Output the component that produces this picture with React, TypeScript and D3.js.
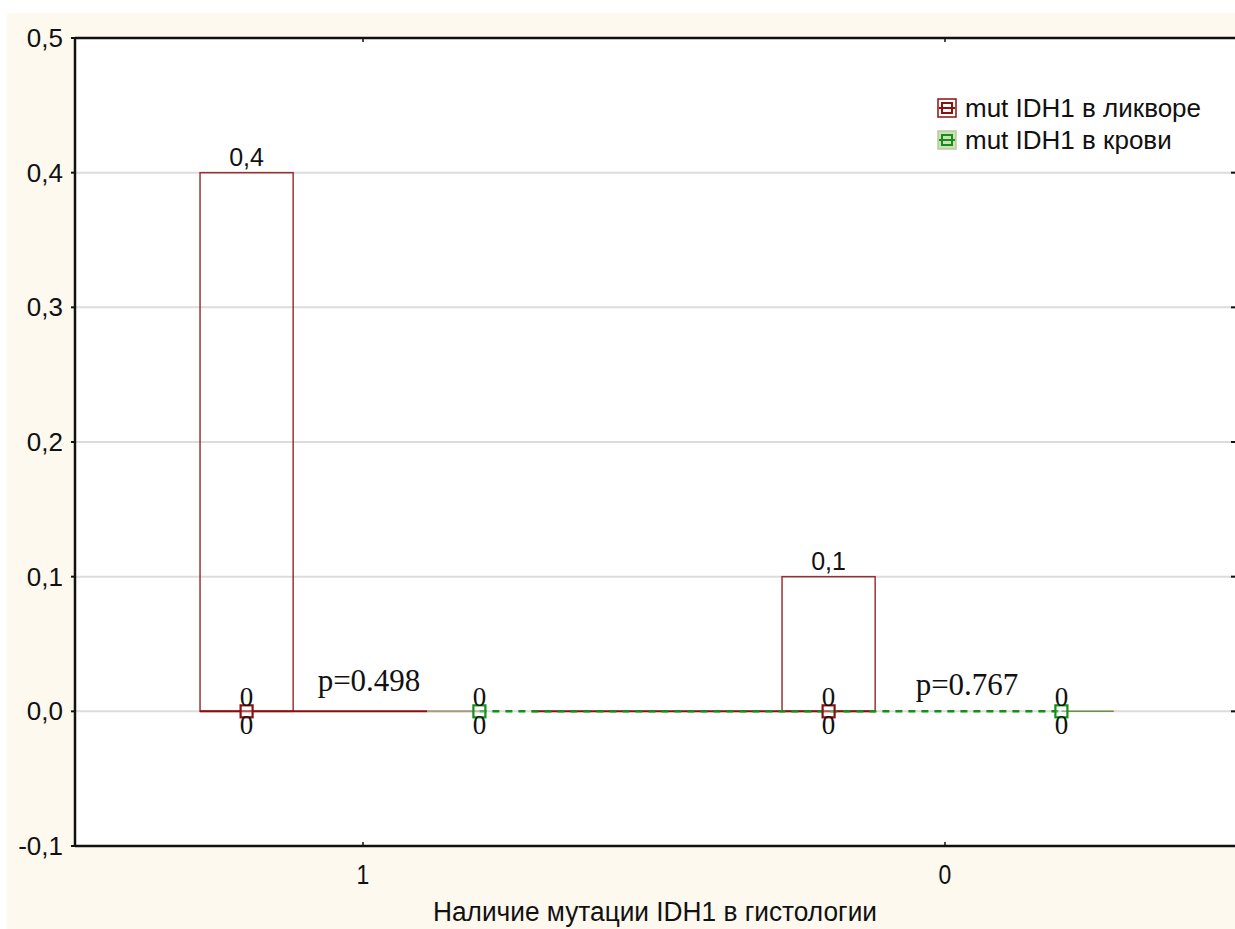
import React from "react";
import * as d3 from "d3";

const categories = ["1", "0"];
const liquorBars = [0.4, 0.1];
const liquorPoints = [0, 0];
const bloodPoints = [0, 0];
const pLabels = ["p=0.498", "p=0.767"];
const yTicks = [-0.1, 0, 0.1, 0.2, 0.3, 0.4, 0.5];
const seriesNames = ["mut IDH1 в ликворе", "mut IDH1 в крови"];
const xTitle = "Наличие мутации IDH1 в гистологии";

const W = 1235;
const H = 929;
const RED = "#8b1010";
const GREEN = "#12901a";
const SANS = "'Liberation Sans', Arial, sans-serif";
const SERIF = "'Liberation Serif', 'Times New Roman', serif";

export default function App() {
  const left = 75;
  const top = 38;
  const bottom = 846;
  const right = 1240;
  const y = d3.scaleLinear().domain([-0.1, 0.5]).range([bottom, top]);
  const x = d3.scaleLinear().domain([0, 1]).range([363, 945]);
  const off = 0.2;
  const half = 0.08;
  const fmt = (v: number) => d3.format(".1f")(v).replace(".", ",").replace("−", "-");
  const y0 = y(0);

  return (
    <svg width={W} height={H} style={{ position: "absolute", left: 0, top: 0 }}>
      <rect x={7} y={13} width={W - 7} height={H - 13} fill="#fef9ee" />
      <rect x={left} y={top} width={right - left} height={bottom - top} fill="#ffffff" />
      {yTicks.map((t) => (
        <g key={t}>
          {t > -0.1 && t < 0.5 && (
            <line x1={left} x2={right} y1={y(t)} y2={y(t)} stroke="#dcdcdc" strokeWidth={2} />
          )}
          <line x1={left - 4} x2={left} y1={y(t)} y2={y(t)} stroke="#111" strokeWidth={2} />
          <line x1={W - 4} x2={W} y1={y(t)} y2={y(t)} stroke="#111" strokeWidth={2} />
          <text x={63} y={y(t) + 9} textAnchor="end" fontFamily={SANS} fontSize={26} fill="#111">
            {fmt(t)}
          </text>
        </g>
      ))}
      {/* bars */}
      {categories.map((c, i) => (
        <g key={c}>
          <rect
            x={x(i - off - half)}
            y={y(liquorBars[i])}
            width={x(i - off + half) - x(i - off - half)}
            height={y0 - y(liquorBars[i])}
            fill="none"
            stroke={RED}
            strokeOpacity={0.85}
            strokeWidth={1.5}
          />
          <text x={x(i - off)} y={y(liquorBars[i]) - 7} textAnchor="middle" fontFamily={SANS} fontSize={25} fill="#111">
            {fmt(liquorBars[i])}
          </text>
        </g>
      ))}
      {/* connecting lines */}
      <line x1={x(-off - half)} x2={x(0.11)} y1={y0} y2={y0} stroke={RED} strokeWidth={2} />
      <line x1={x(0.11)} x2={x(off)} y1={y0} y2={y0} stroke="#a89a7a" strokeWidth={2} />
      <line x1={x(0.29)} x2={x(1 - off + half)} y1={y0} y2={y0} stroke={RED} strokeWidth={2} />
      <line x1={x(off)} x2={x(1 + off)} y1={y0} y2={y0} stroke={GREEN} strokeWidth={2.5} strokeDasharray="7,6" />
      <line x1={x(1 + off)} x2={x(1.29)} y1={y0} y2={y0} stroke="#6f8f45" strokeWidth={1.5} />
      {/* markers and labels */}
      {categories.map((c, i) => (
        <g key={"m" + c}>
          {[
            { v: liquorPoints[i], cx: x(i - off), col: RED },
            { v: bloodPoints[i], cx: x(i + off), col: GREEN },
          ].map((m, k) => (
            <g key={k}>
              <rect x={m.cx - 6} y={y(m.v) - 6} width={12} height={12} fill="#fff" fillOpacity={0.3} stroke={m.col} strokeWidth={2.2} />
              <text x={m.cx} y={y(m.v) - 5} textAnchor="middle" fontFamily={SERIF} fontSize={27} fill="#111">
                {d3.format("d")(m.v)}
              </text>
              <text x={m.cx} y={y(m.v) + 23} textAnchor="middle" fontFamily={SERIF} fontSize={27} fill="#111">
                {d3.format("d")(m.v)}
              </text>
            </g>
          ))}
          <text x={x(i) + 6 + i * 16} y={y0 - 20 + i * 4} textAnchor="middle" fontFamily={SERIF} fontSize={31} fill="#111">
            {pLabels[i]}
          </text>
        </g>
      ))}
      {/* axes */}
      <line x1={left} x2={W} y1={top} y2={top} stroke="#111" strokeWidth={2.5} />
      <line x1={left} x2={W} y1={bottom} y2={bottom} stroke="#111" strokeWidth={2.5} />
      <line x1={left} x2={left} y1={top} y2={bottom} stroke="#111" strokeWidth={2.5} />
      {categories.map((c, i) => (
        <g key={"x" + c}>
          <line x1={x(i)} x2={x(i)} y1={bottom - 4} y2={bottom} stroke="#111" strokeWidth={1.5} />
          <line x1={x(i)} x2={x(i)} y1={top} y2={top + 4} stroke="#111" strokeWidth={1.5} />
          <text
            x={0}
            y={0}
            transform={`translate(${x(i)},884) scale(0.82,1)`}
            textAnchor="middle"
            fontFamily={SANS}
            fontSize={28}
            fill="#111"
          >
            {c}
          </text>
        </g>
      ))}
      <text
        x={655}
        y={921}
        textAnchor="middle"
        fontFamily={SANS}
        fontSize={27}
        textLength={444}
        lengthAdjust="spacingAndGlyphs"
        fill="#111"
      >
        {xTitle}
      </text>
      {/* legend */}
      {seriesNames.map((s, i) => {
        const ly = 108 + i * 32;
        const col = i === 0 ? RED : GREEN;
        return (
          <g key={s}>
            <rect x={938} y={ly - 9} width={18} height={18} fill={i === 0 ? "#fff" : "#cfe0b8"} stroke={i === 0 ? RED : "#b7c9a0"} strokeWidth={1.5} />
            <line x1={939} x2={955} y1={ly} y2={ly} stroke={col} strokeWidth={2} />
            <rect x={942} y={ly - 5} width={10} height={10} fill="none" stroke={col} strokeWidth={2} />
            <text x={965} y={ly + 9} fontFamily={SANS} fontSize={26} fill="#111">
              {s}
            </text>
          </g>
        );
      })}
    </svg>
  );
}
